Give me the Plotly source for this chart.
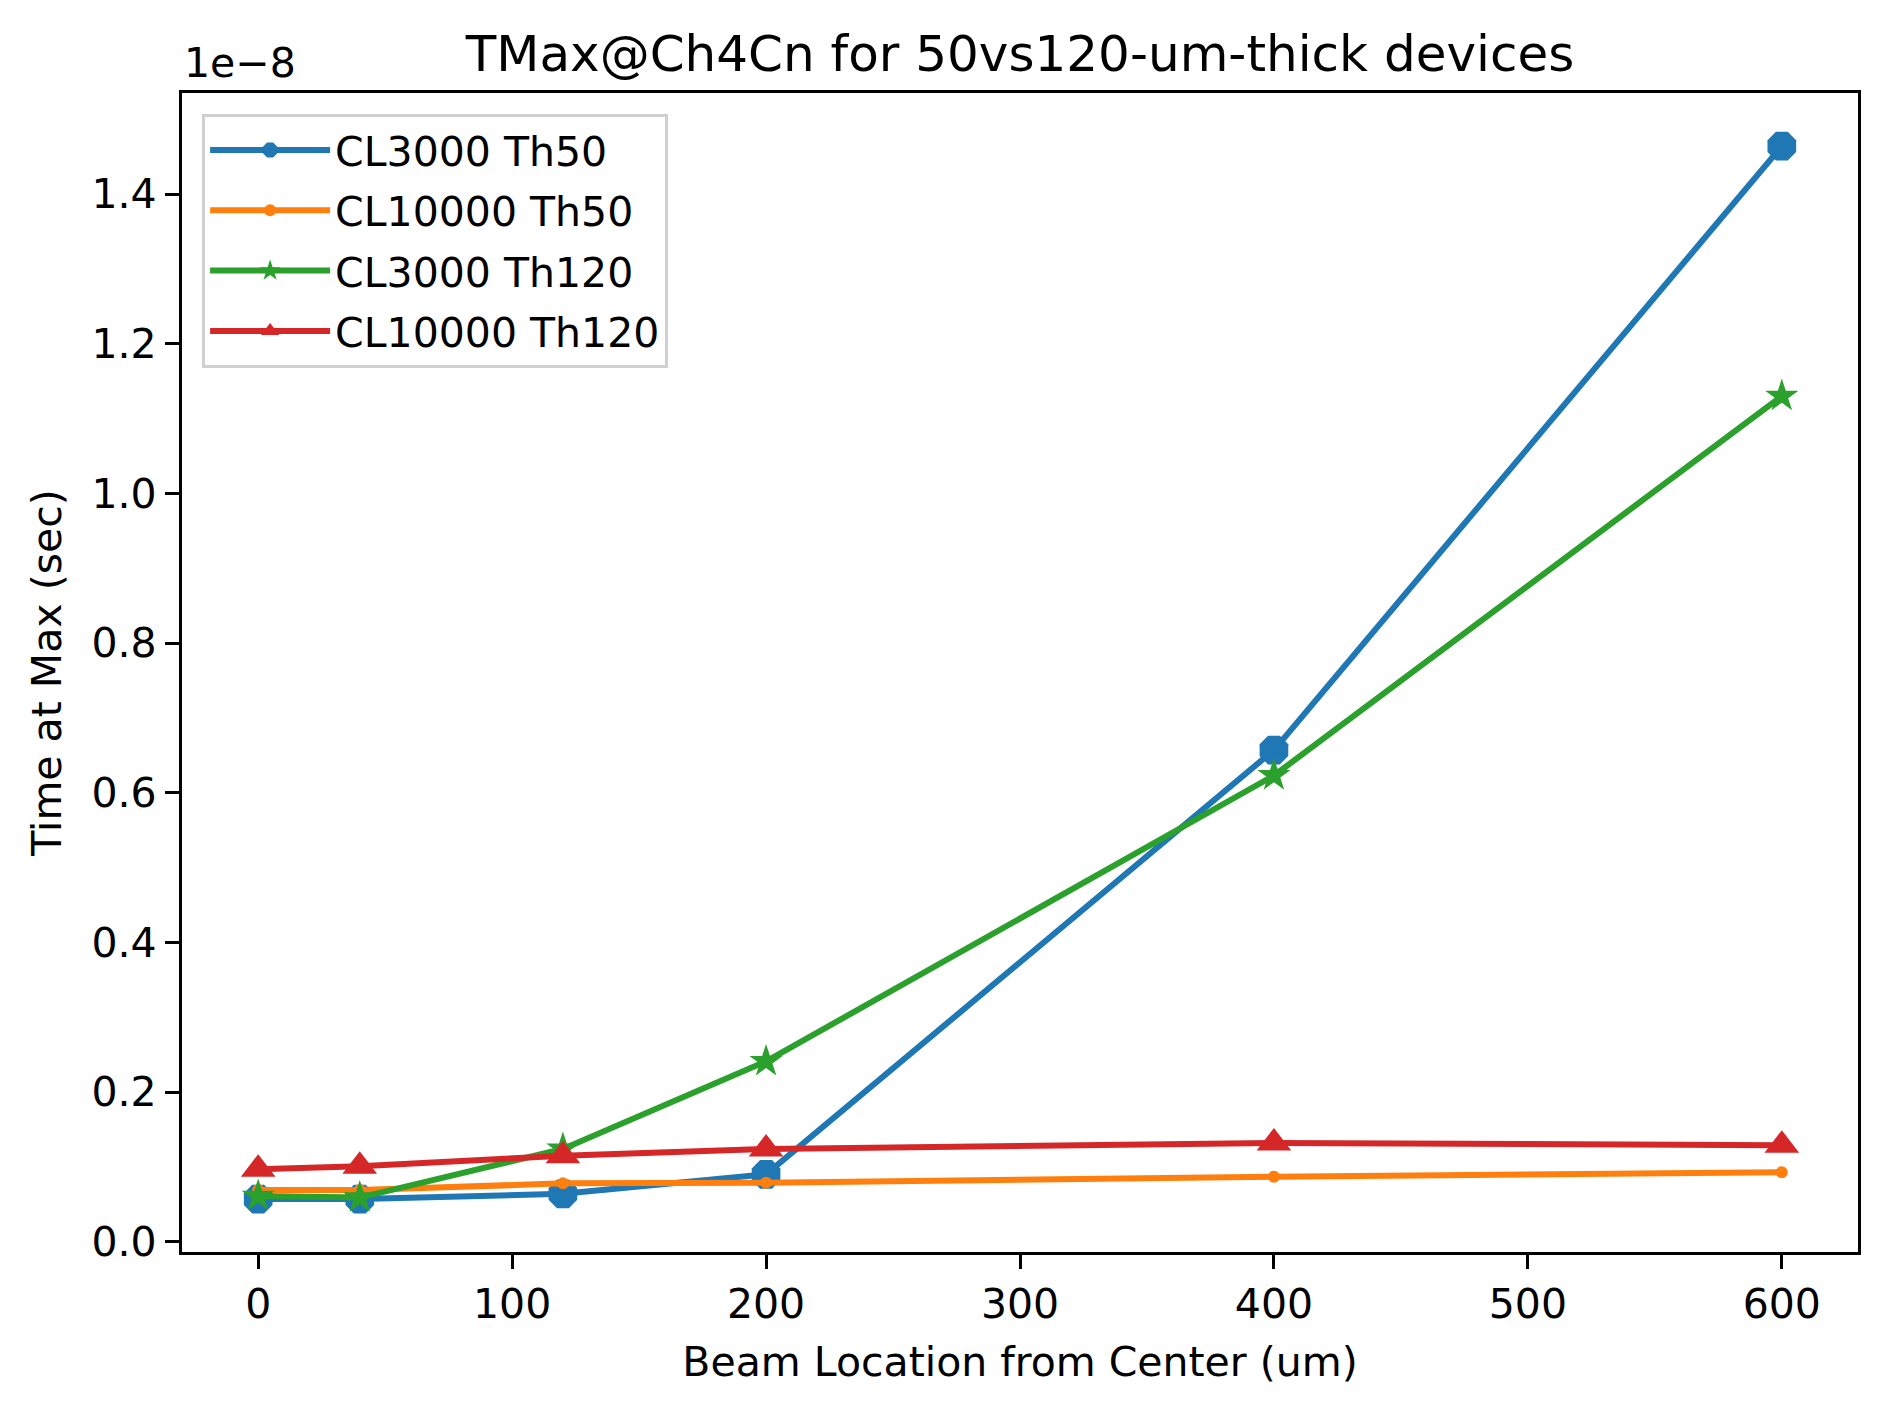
import plotly.graph_objects as go

# === data (time at max, in units of 1e-8 sec) ===
beam_pos = [0, 40, 120, 200, 400, 600]
cl3000_th50 = [0.057, 0.057, 0.064, 0.090, 0.657, 1.464]
cl10000_th50 = [0.069, 0.069, 0.078, 0.079, 0.087, 0.093]
cl3000_th120 = [0.061, 0.059, 0.124, 0.241, 0.623, 1.130]
cl10000_th120 = [0.097, 0.101, 0.115, 0.124, 0.132, 0.129]
series_names = ["CL3000 Th50", "CL10000 Th50", "CL3000 Th120", "CL10000 Th120"]
x_ticks = [0, 100, 200, 300, 400, 500, 600]
y_ticks = [0.0, 0.2, 0.4, 0.6, 0.8, 1.0, 1.2, 1.4]

# === styles ===
FONT = "DejaVu Sans"
styles = [
    dict(color="#1f77b4", symbol="octagon", size=31),
    dict(color="#ff7f0e", symbol="circle", size=12),
    dict(color="#2ca02c", symbol="star", size=25),
    dict(color="#d62728", symbol="triangle-up", size=30),
]

fig = go.Figure()
for i, (name, ys, st) in enumerate(zip(
        series_names,
        [cl3000_th50, cl10000_th50, cl3000_th120, cl10000_th120],
        styles)):
    fig.add_trace(go.Scatter(
        x=beam_pos, y=ys, name=name, mode="lines+markers",
        legendgroup=f"g{i}",
        line=dict(color=st["color"], width=6),
        marker=dict(color=st["color"], symbol=st["symbol"], size=st["size"],
                    line=dict(width=0)),
    ))

axis_common = dict(
    showline=True, linecolor="black", linewidth=3.3, mirror=True,
    ticks="outside", ticklen=14, tickwidth=3.3, tickcolor="black",
    showgrid=False, zeroline=False,
    tickfont=dict(family=FONT, size=41, color="black"),
)

fig.update_layout(
    width=1887, height=1408,
    margin=dict(l=174, r=37, t=85, b=164),
    paper_bgcolor="white", plot_bgcolor="white",
    font=dict(family=FONT, size=41, color="black"),
    title=dict(text="TMax@Ch4Cn for 50vs120-um-thick devices",
               x=(174 + 1850) / 2 / 1887, xanchor="center",
               y=1 - 45 / 1408, yanchor="middle",
               font=dict(family=FONT, size=50, color="black")),
    xaxis=dict(axis_common, range=[-30, 630], tickvals=x_ticks,
               title=dict(text="Beam Location from Center (um)",
                          font=dict(family=FONT, size=41), standoff=20)),
    yaxis=dict(axis_common, range=[-0.0137, 1.535], tickvals=y_ticks,
               tickformat=".1f",
               title=dict(text="Time at Max (sec)",
                          font=dict(family=FONT, size=41), standoff=18)),
    legend=dict(x=0.012, y=0.982, xanchor="left", yanchor="top",
                bgcolor="rgba(255,255,255,0.8)", bordercolor="#d0d0d0",
                borderwidth=3, font=dict(family=FONT, size=41),
                itemwidth=120, tracegroupgap=4),
    showlegend=True,
)

fig.add_annotation(text="1e\u22128", xref="paper", yref="paper",
                   x=0, y=1, xanchor="left", yanchor="bottom", yshift=4,
                   showarrow=False, font=dict(family=FONT, size=41))

fig.write_html("out.html")
